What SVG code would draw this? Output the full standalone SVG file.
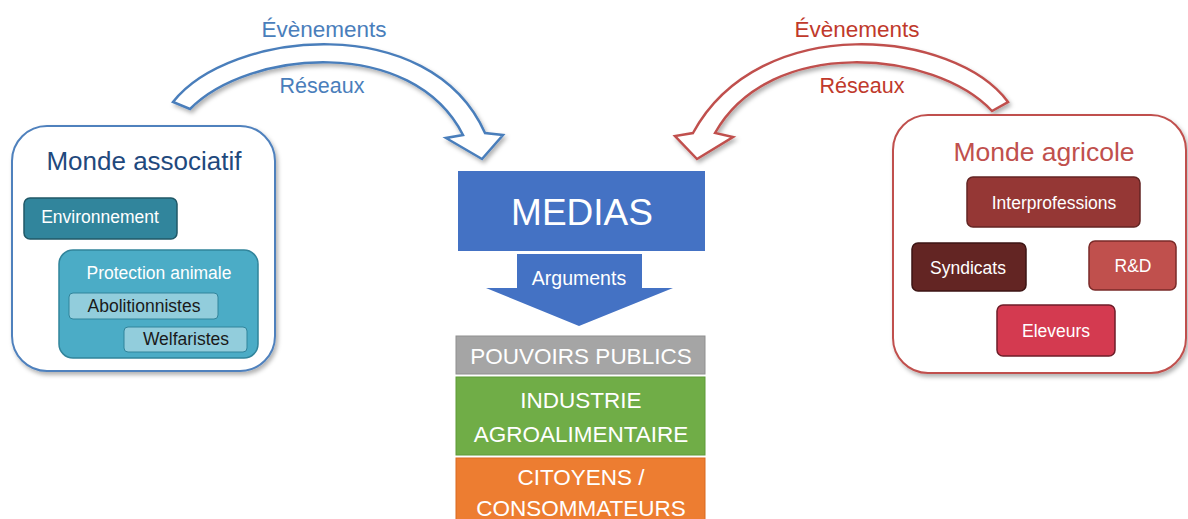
<svg xmlns="http://www.w3.org/2000/svg" width="1188" height="519" viewBox="0 0 1188 519">
<defs>
<filter id="sh" x="-10%" y="-10%" width="125%" height="130%">
<feDropShadow dx="2" dy="3" stdDeviation="2" flood-color="#000" flood-opacity="0.3"/>
</filter>
<style>
text{font-family:"Liberation Sans",Arial,sans-serif;text-anchor:middle}
.w{fill:#fff}
.blue{fill:#4A7EBB}
.red{fill:#C0392B}
.box{stroke-width:1.5}
</style>
</defs>
<rect width="1188" height="519" fill="#fff"/>

<g id="connectors">
<g id="arrow-left">
<path d="M173,102 C230,30 430,10 485,133 L503,135 L482,159 L446,138 L463,135 C412,35 248,50 190,109 Z" fill="#fff" stroke="#4A7EBB" stroke-width="2.5" stroke-linejoin="miter" filter="url(#sh)"/>
<text x="324" y="37" font-size="22.5" class="blue">Évènements</text>
<text x="322" y="93" font-size="21.5" class="blue">Réseaux</text>
</g>
<g id="arrow-right">
<path d="M1008,102 C955,30 760,10 693,133 L675,136 L697,159 L733,137 L715,133 C770,35 935,50 992,111 Z" fill="#fff" stroke="#C0504D" stroke-width="2.5" stroke-linejoin="miter" filter="url(#sh)"/>
<text x="857" y="37" font-size="22.5" class="red">Évènements</text>
<text x="862" y="93" font-size="21.5" class="red">Réseaux</text>
</g>
<g id="arrow-arguments">
<path d="M517,254 L642,254 L642,288 L673,288 L579,326 L486,288 L517,288 Z" fill="#4472C4"/>
<text x="579" y="285" font-size="19.5" class="w">Arguments</text>
</g>
</g>

<g id="monde-associatif">
<rect x="12" y="126" width="263" height="245" rx="35" fill="#fff" stroke="#4F81BD" stroke-width="2" filter="url(#sh)"/>
<text x="144" y="170" font-size="26" fill="#1F497D">Monde associatif</text>
</g>
<g id="environnement">
<rect x="24" y="198" width="153" height="41" rx="6" fill="#31859C" stroke="#205867" class="box"/>
<text x="100" y="223" font-size="17.5" class="w">Environnement</text>
</g>
<g id="protection-animale">
<rect x="59" y="250" width="199" height="108" rx="14" fill="#4BACC6" stroke="#31849B" class="box"/>
<text x="159" y="279" font-size="17.5" class="w">Protection animale</text>
</g>
<g id="abolitionnistes">
<rect x="69" y="293" width="149" height="26" rx="4" fill="#92CDDC" stroke="#31849B" stroke-width="1"/>
<text x="144" y="312" font-size="17.5" fill="#1a1a1a">Abolitionnistes</text>
</g>
<g id="welfaristes">
<rect x="124" y="327" width="123" height="25" rx="4" fill="#92CDDC" stroke="#31849B" stroke-width="1"/>
<text x="186" y="345" font-size="17.5" fill="#1a1a1a">Welfaristes</text>
</g>

<g id="monde-agricole">
<rect x="893" y="115" width="293" height="258" rx="35" fill="#fff" stroke="#C0504D" stroke-width="2" filter="url(#sh)"/>
<text x="1044" y="161" font-size="26.5" fill="#C0504D">Monde agricole</text>
</g>
<g id="interprofessions">
<rect x="967" y="177" width="173" height="50" rx="6" fill="#953735" stroke="#632523" class="box"/>
<text x="1054" y="209" font-size="17.5" class="w">Interprofessions</text>
</g>
<g id="syndicats">
<rect x="912" y="243" width="114" height="48" rx="6" fill="#632523" stroke="#3d1514" class="box"/>
<text x="968" y="274" font-size="17.5" class="w">Syndicats</text>
</g>
<g id="rd">
<rect x="1089" y="241" width="87" height="49" rx="6" fill="#C0504D" stroke="#7a2a28" class="box"/>
<text x="1133" y="272" font-size="17.5" class="w">R&amp;D</text>
</g>
<g id="eleveurs">
<rect x="997" y="305" width="118" height="51" rx="6" fill="#D43A50" stroke="#6e1d28" class="box"/>
<text x="1056" y="337" font-size="17.5" class="w">Eleveurs</text>
</g>

<g id="medias">
<rect x="458" y="171" width="247" height="80" fill="#4472C4"/>
<text x="582" y="225" font-size="37" class="w">MEDIAS</text>
</g>
<g id="pouvoirs-publics">
<rect x="456" y="336" width="249" height="38" fill="#A5A5A5" stroke="#8f8f8f" stroke-width="1"/>
<text x="581" y="364" font-size="22.5" class="w">POUVOIRS PUBLICS</text>
</g>
<g id="industrie">
<rect x="456" y="377" width="249" height="78" fill="#70AD47" stroke="#5e9a38" stroke-width="1"/>
<text x="581" y="408" font-size="22.5" class="w">INDUSTRIE</text>
<text x="581" y="442" font-size="22.5" class="w">AGROALIMENTAIRE</text>
</g>
<g id="citoyens">
<rect x="456" y="458" width="249" height="66" fill="#ED7D31" stroke="#d96a20" stroke-width="1"/>
<text x="581" y="485" font-size="22.5" class="w">CITOYENS /</text>
<text x="581" y="516" font-size="22.5" class="w">CONSOMMATEURS</text>
</g>
</svg>
